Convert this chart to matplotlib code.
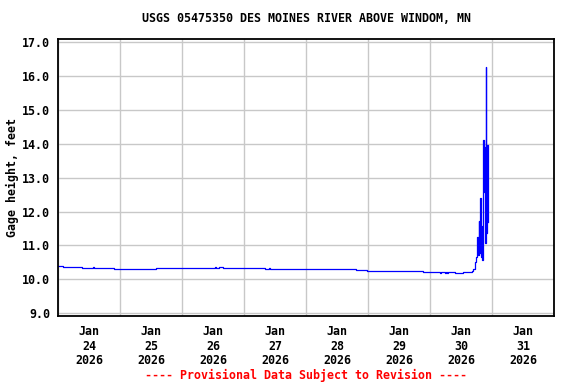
import matplotlib
matplotlib.use("Agg")
import matplotlib.pyplot as plt
import matplotlib.dates as mdates
import numpy as np
import datetime as dt

# ---- data ----
title = "USGS 05475350 DES MOINES RIVER ABOVE WINDOM, MN"
ylabel = "Gage height, feet"
footer = "---- Provisional Data Subject to Revision ----"
start = dt.datetime(2026, 1, 24, 0, 0)
# hours since Jan 24 00:00
hours = [0.0, 1.8, 9.1, 13.3, 13.7, 21.6, 37.8, 60.5, 61.2, 62.3, 63.8,
         80.0, 81.5, 81.9, 115.2, 119.5, 141.1, 147.7, 148.3, 149.6, 150.1,
         150.4, 150.8, 153.5, 156.6, 157.2, 160.0, 160.6, 161.2, 161.4,
         161.7, 162.1, 162.3, 162.7, 163.0, 163.4, 163.6, 163.9, 164.0,
         164.3, 164.5, 164.8, 165.0, 165.2, 165.4, 165.6, 165.7, 166.0, 166.2]
gage = [10.38, 10.35, 10.32, 10.35, 10.32, 10.29, 10.32, 10.35, 10.32, 10.35, 10.32,
        10.29, 10.32, 10.29, 10.26, 10.23, 10.20, 10.17, 10.20, 10.17, 10.20,
        10.17, 10.20, 10.17, 10.20, 10.22, 10.25, 10.29, 10.37, 10.50,
        10.66, 11.24, 10.71, 11.72, 10.77, 12.41, 10.66, 11.58, 10.56,
        12.04, 14.12, 12.57, 13.92, 11.07, 12.25, 16.27, 11.36, 13.97, 11.70]
yticks = [9.0, 10.0, 11.0, 12.0, 13.0, 14.0, 15.0, 16.0, 17.0]

times = [start + dt.timedelta(hours=h) for h in hours]

mono = "DejaVu Sans Mono"
fs = 8.4

fig = plt.figure(figsize=(5.76, 3.84), dpi=100)
ax = fig.add_axes([58.3/576, 1-315.7/384, (554.3-58.3)/576, (315.7-39.3)/384])

ax.plot(times, gage, color="#0000ff", lw=0.9, drawstyle="steps-post")

ax.set_xlim(start, start + dt.timedelta(days=8))
ax.set_ylim(8.92, 17.09)
ax.set_yticks(yticks)
ax.set_yticklabels([f"{v:.1f}" for v in yticks], fontfamily=mono,
                   fontweight="bold", fontsize=fs)

ax.xaxis.set_major_locator(mdates.DayLocator())
ax.xaxis.set_major_formatter(plt.NullFormatter())
ax.xaxis.set_minor_locator(mdates.HourLocator(byhour=[12]))
ax.xaxis.set_minor_formatter(mdates.DateFormatter("%b\n%d\n%Y"))
for lbl in ax.xaxis.get_minorticklabels():
    lbl.set_fontfamily(mono)
    lbl.set_fontweight("bold")
    lbl.set_fontsize(fs)
    lbl.set_linespacing(1.12)

ax.tick_params(axis="both", which="both", length=0)
ax.tick_params(axis="y", pad=6)
ax.tick_params(axis="x", which="minor", pad=7)

ax.grid(True, which="major", color="#c8c8c8", lw=1.0)
ax.set_axisbelow(True)
for s in ax.spines.values():
    s.set_linewidth(1.3)
    s.set_color("black")

ax.set_ylabel(ylabel, fontfamily=mono, fontweight="bold", fontsize=fs, labelpad=2)
fig.text(306/576, 1-19/384, title, ha="center", va="center",
         fontfamily=mono, fontweight="bold", fontsize=fs)
fig.text(306/576, 1-375/384, footer, ha="center", va="center", color="red",
         fontfamily=mono, fontweight="bold", fontsize=fs)

fig.savefig("out.png", dpi=100)
